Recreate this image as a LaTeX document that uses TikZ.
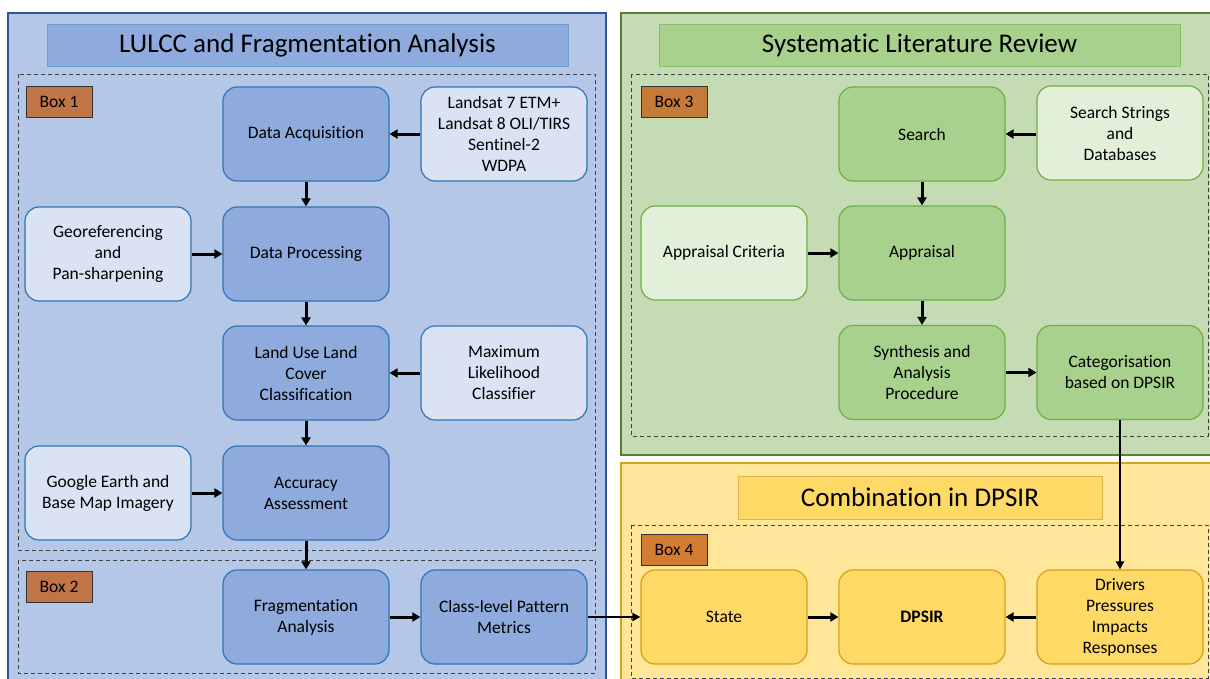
\documentclass[tikz,border=0pt]{standalone}
\usepackage{fontspec}
\setmainfont[RawFeature={-liga;-clig;-calt;-dlig}]{Carlito}
\usetikzlibrary{arrows.meta}
\definecolor{bpanel}{HTML}{B4C7E7}
\definecolor{bborder}{HTML}{2F5597}
\definecolor{bnode}{HTML}{8FAADC}
\definecolor{bline}{HTML}{2E75B6}
\definecolor{blight}{HTML}{DAE3F3}
\definecolor{gpanel}{HTML}{C5DBB3}
\definecolor{gborder}{HTML}{548235}
\definecolor{gnode}{HTML}{A9D18E}
\definecolor{gline}{HTML}{70AD47}
\definecolor{glight}{HTML}{E2F0D9}
\definecolor{ypanel}{HTML}{FFE699}
\definecolor{yborder}{HTML}{D6A021}
\definecolor{ynode}{HTML}{FFD966}
\definecolor{yline}{HTML}{D4A017}
\definecolor{boxlab}{HTML}{C55A11}
\tikzset{
  nodebox/.style={rounded corners=14pt, line width=1.2pt, minimum width=166pt, minimum height=94pt, align=center, inner sep=2pt, font=\fontsize{17.5}{21}\selectfont},
  bmain/.style={nodebox, draw=bline, fill=bnode},
  blt/.style={nodebox, draw=bline, fill=blight},
  gmain/.style={nodebox, draw=gline, fill=gnode},
  glt/.style={nodebox, draw=gline, fill=glight},
  ymain/.style={nodebox, draw=yline, fill=ynode},
  titlebar/.style={line width=1pt, font=\fontsize{27}{30}\selectfont, inner sep=0pt},
  boxlabel/.style={draw=black!80, line width=1pt, fill=boxlab, fill opacity=0.75, text opacity=1, minimum width=66pt, minimum height=31pt, inner sep=0pt, font=\fontsize{17.5}{20}\selectfont},
  dashbox/.style={draw=black!75, line width=1pt, dash pattern=on 4pt off 3pt},
  arr/.style={-{Triangle[length=8pt,width=9pt]}, line width=3pt, black},
  thinarr/.style={-{Triangle[length=8pt,width=8pt]}, line width=2.2pt, black},
}
\begin{document}
\begin{tikzpicture}[x=1pt,y=-1pt]
\useasboundingbox (0,0) rectangle (1210,678);
\clip (0,0) rectangle (1210,678);
\fill[white] (0,0) rectangle (1210,678);

% panels
\draw[fill=bpanel, draw=bborder, line width=1.5pt] (8,13) rectangle (606,690);
\draw[fill=gpanel, draw=gborder, line width=1.5pt] (621,13) rectangle (1220,455);
\draw[fill=ypanel, draw=yborder, line width=1.5pt] (621,463) rectangle (1220,690);

% title bars
\node[titlebar, draw=bline!70, fill=bnode, minimum width=521pt, minimum height=42pt] (t1) at (307.5,45) {LULCC and Fragmentation Analysis};
\node[titlebar, draw=gline!80, fill=gnode, minimum width=521pt, minimum height=42pt] (t2) at (919.5,45) {Systematic Literature Review};
\node[titlebar, draw=yborder!80, fill=ynode, minimum width=364pt, minimum height=43pt] (t3) at (920,497.5) {Combination in DPSIR};

% dashed boxes
\draw[dashbox] (18,74) rectangle (595,550);
\draw[dashbox] (18,560) rectangle (595,673);
\draw[dashbox] (631,74) rectangle (1208,436);
\draw[dashbox] (631,525) rectangle (1208,678);

% box labels
\node[boxlabel] (b1) at (59,101.5) {Box 1};
\node[boxlabel] (b2) at (59,587) {Box 2};
\node[boxlabel] (b3) at (674,101.5) {Box 3};
\node[boxlabel] (b4) at (674,550) {Box 4};

% left nodes
\node[bmain] (da) at (306,134) {Data Acquisition};
\node[blt] (ls) at (504,134) {Landsat 7 ETM+\\Landsat 8 OLI/TIRS\\Sentinel-2\\WDPA};
\node[bmain] (dp) at (306,254) {Data Processing};
\node[blt] (geo) at (108,254) {Georeferencing\\and\\Pan-sharpening};
\node[bmain] (lulc) at (306,373) {Land Use Land\\Cover\\Classification};
\node[blt] (mlc) at (504,373) {Maximum\\Likelihood\\Classifier};
\node[bmain] (aa) at (306,493) {Accuracy\\Assessment};
\node[blt] (ge) at (108,493) {Google Earth and\\Base Map Imagery};
\node[bmain] (fa) at (306,617) {Fragmentation\\Analysis};
\node[bmain] (cl) at (504,617) {Class-level Pattern\\Metrics};

% green nodes
\node[gmain] (se) at (922,134) {Search};
\node[glt] (ss) at (1120,133) {Search Strings\\and\\Databases};
\node[gmain] (ap) at (922,253) {Appraisal};
\node[glt] (ac) at (724,253) {Appraisal Criteria};
\node[gmain] (sy) at (922,372.5) {Synthesis and\\Analysis\\Procedure};
\node[gmain] (ca) at (1120,372.5) {Categorisation\\based on DPSIR};

% yellow nodes
\node[ymain] (st) at (724,617) {State};
\node[ymain] (dps) at (922,617) {\textbf{DPSIR}};
\node[ymain] (dr) at (1120,617) {Drivers\\Pressures\\Impacts\\Responses};

% arrows
\draw[arr] (ls) -- (da);
\draw[arr] (da) -- (dp);
\draw[arr] (geo) -- (dp);
\draw[arr] (dp) -- (lulc);
\draw[arr] (mlc) -- (lulc);
\draw[arr] (lulc) -- (aa);
\draw[arr] (ge) -- (aa);
\draw[arr] (aa) -- (fa);
\draw[arr] (fa) -- (cl);
\draw[thinarr] (cl) -- (st);
\draw[arr] (ss.west |- se) -- (se);
\draw[arr] (se) -- (ap);
\draw[arr] (ac) -- (ap);
\draw[arr] (ap) -- (sy);
\draw[arr] (sy) -- (ca);
\draw[thinarr, line width=2.6pt] (ca) -- (dr);
\draw[arr] (st) -- (dps);
\draw[arr] (dr) -- (dps);
\end{tikzpicture}
\end{document}
